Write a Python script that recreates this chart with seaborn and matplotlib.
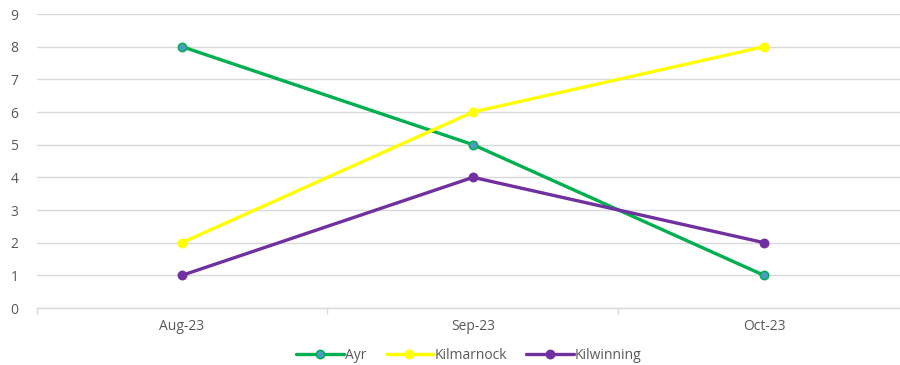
import matplotlib
matplotlib.use("Agg")
import matplotlib.pyplot as plt
import seaborn as sns
import pandas as pd
from matplotlib.ticker import FixedLocator

months = ["Aug-23", "Sep-23", "Oct-23"]
ayr = [8, 5, 1]
kilmarnock = [2, 6, 8]
kilwinning = [1, 4, 2]
series_names = ["Ayr", "Kilmarnock", "Kilwinning"]
y_ticks = list(range(0, 10))

sns.set_theme(style="white")
plt.rcParams["font.family"] = ["Open Sans", "DejaVu Sans"]

df = pd.DataFrame({
    "month": months * 3,
    "x": list(range(len(months))) * 3,
    "value": ayr + kilmarnock + kilwinning,
    "series": [series_names[0]] * 3 + [series_names[1]] * 3 + [series_names[2]] * 3,
})

line_colors = {"Ayr": "#00B050", "Kilmarnock": "#FFFF00", "Kilwinning": "#7030A0"}
marker_faces = {"Ayr": "#4A9CC4", "Kilmarnock": "#FFFF00", "Kilwinning": "#7030A0"}

fig = plt.figure(figsize=(9, 3.65), dpi=100)
ax = fig.add_axes([36.5 / 900, 1 - 308 / 365, 873 / 900, (308 - 14) / 365])

for name in series_names:
    sub = df[df["series"] == name]
    sns.lineplot(data=sub, x="x", y="value", ax=ax, color=line_colors[name],
                 linewidth=2.4, marker="o", markersize=6,
                 markerfacecolor=marker_faces[name],
                 markeredgecolor=line_colors[name], markeredgewidth=1.1,
                 label=name, zorder=3)

ax.set_xlim(-0.5, 2.5)
ax.set_ylim(0, 9)
ax.set_yticks(y_ticks)
ax.set_xticks(range(len(months)))
ax.set_xticklabels(months)
ax.xaxis.set_minor_locator(FixedLocator([-0.5, 0.5, 1.5, 2.5]))
ax.set_xlabel("")
ax.set_ylabel("")

ax.grid(axis="y", color="#D9D9D9", linewidth=1.0, zorder=0)
ax.grid(axis="x", visible=False)
for side in ["top", "right", "left"]:
    ax.spines[side].set_visible(False)
ax.spines["bottom"].set_color("#D9D9D9")
ax.spines["bottom"].set_linewidth(1.0)

ax.tick_params(axis="y", which="both", length=0, labelsize=10, labelcolor="#595959", pad=13)
ax.tick_params(axis="x", which="major", length=0, labelsize=10, labelcolor="#595959", pad=8)
ax.tick_params(axis="x", which="minor", length=4, width=1.0, color="#D9D9D9", bottom=True)

leg = ax.legend(loc="center", bbox_to_anchor=(0.5 - 4 / 873, -0.16),
                ncol=3, frameon=False, fontsize=10, handlelength=3.4, handletextpad=0.1,
                columnspacing=1.4, labelcolor="#595959")

fig.savefig("out.png", dpi=100, facecolor="white")
